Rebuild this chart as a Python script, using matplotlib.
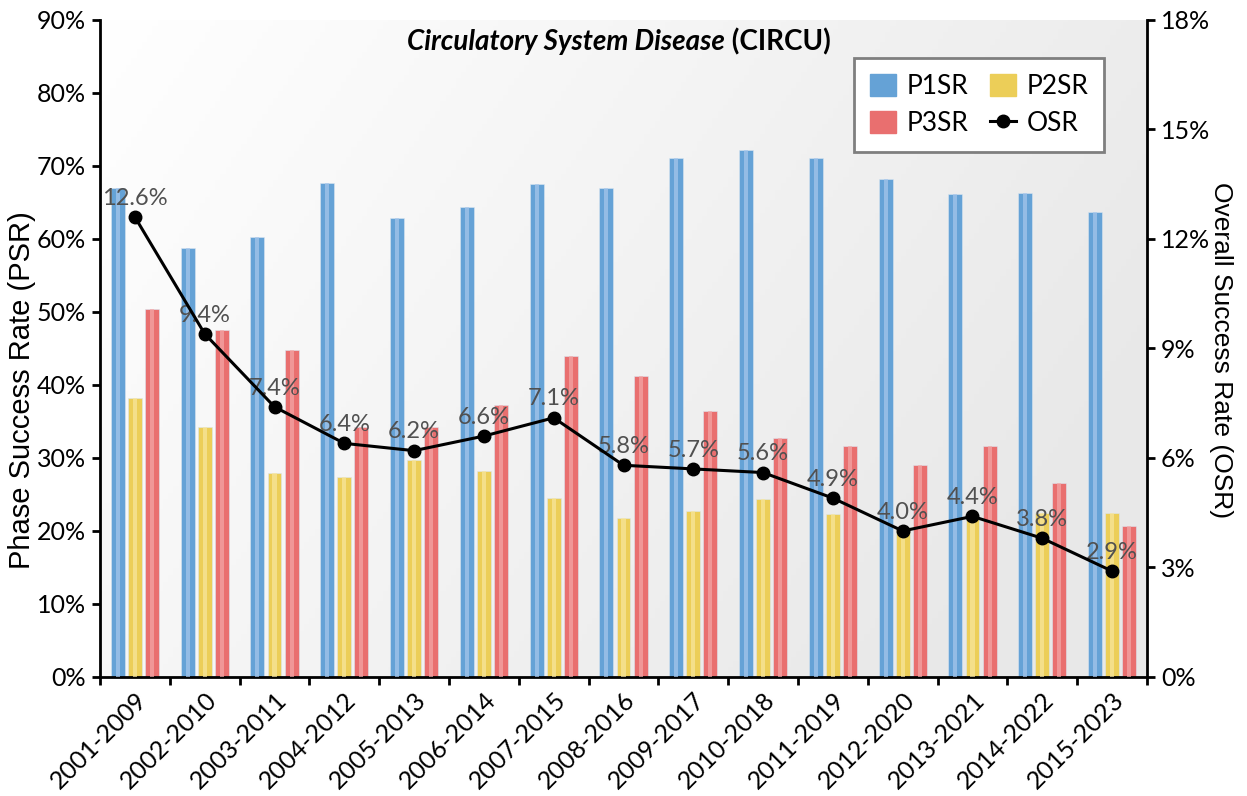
import numpy as np
import matplotlib
matplotlib.use("Agg")
import matplotlib.pyplot as plt
from matplotlib.lines import Line2D
from matplotlib.ticker import FixedLocator, PercentFormatter

# data
periods = ["2001-2009", "2002-2010", "2003-2011", "2004-2012", "2005-2013",
           "2006-2014", "2007-2015", "2008-2016", "2009-2017", "2010-2018",
           "2011-2019", "2012-2020", "2013-2021", "2014-2022", "2015-2023"]
p1sr = [67.0, 58.8, 60.3, 67.7, 62.9, 64.4, 67.5, 67.0, 71.1, 72.2,
        71.1, 68.2, 66.2, 66.3, 63.7]
p2sr = [38.2, 34.2, 27.9, 27.4, 29.7, 28.2, 24.5, 21.8, 22.8, 24.4,
        22.3, 20.5, 21.9, 22.4, 22.4]
p3sr = [50.4, 47.5, 44.8, 34.2, 34.2, 37.3, 43.9, 41.2, 36.4, 32.8,
        31.7, 29.1, 31.6, 26.6, 20.7]
osr = [12.6, 9.4, 7.4, 6.4, 6.2, 6.6, 7.1, 5.8, 5.7, 5.6,
       4.9, 4.0, 4.4, 3.8, 2.9]

main_font = ["Lato", "DejaVu Sans"]
label_font = ["Liberation Sans Narrow", "Liberation Sans", "DejaVu Sans"]
plt.rcParams['font.family'] = main_font

colors = {"P1SR": ("#65a2d6", "#a9c8ec"),
          "P2SR": ("#ecce58", "#f8e7a0"),
          "P3SR": ("#e96f6f", "#f4a9a9")}

fig = plt.figure(figsize=(12.47, 7.96), dpi=100)
ax = fig.add_axes([0.0802, 0.1495, 0.8396, 0.8255])

# gradient plot background, white top-left to light grey on the right
gx = np.linspace(0, 1, 200)
gy = np.linspace(0, 1, 200)
GX, GY = np.meshgrid(gx, gy)
shade = 1.0 - 0.09 * np.clip(0.8 * GX + 0.35 * GY, 0, 1)
ax.imshow(np.dstack([shade, shade, shade]), extent=[0, 1, 0, 1],
          transform=ax.transAxes, aspect="auto", zorder=0, origin="upper")

x = np.arange(len(periods))
w = 0.2
off = 0.245
for vals, key, dx in [(p1sr, "P1SR", -off), (p2sr, "P2SR", 0), (p3sr, "P3SR", off)]:
    base, light = colors[key]
    ax.bar(x + dx, vals, width=w, color=base, edgecolor="#dbe6f0", linewidth=0.4, zorder=2)
    ax.bar(x + dx, vals, width=w * 0.3, color=light, alpha=0.7, linewidth=0, zorder=3)

ax.set_xlim(-0.5, len(periods) - 0.5)
ax.set_ylim(0, 90)
ax.yaxis.set_major_locator(FixedLocator(np.arange(0, 91, 10)))
ax.yaxis.set_major_formatter(PercentFormatter(decimals=0))
ax.xaxis.set_major_locator(FixedLocator(np.arange(-0.5, len(periods), 1.0)))
ax.xaxis.set_major_formatter(plt.NullFormatter())
ax.xaxis.set_minor_locator(FixedLocator(x))
ax.set_xticklabels(periods, minor=True, rotation=45, ha="right",
                   rotation_mode="anchor", fontsize=18)
ax.tick_params(axis="x", which="minor", length=0, pad=8)
ax.tick_params(axis="x", which="major", length=6, width=2, direction="out")
ax.tick_params(axis="y", length=6, width=2, direction="out", labelsize=18, pad=4)
ax.set_ylabel("Phase Success Rate (PSR)", fontsize=21, family=label_font)
ax.yaxis.set_label_coords(-0.061, 0.437)
for s in ["left", "bottom"]:
    ax.spines[s].set_linewidth(2)
ax.spines["top"].set_visible(False)
ax.spines["right"].set_visible(False)

ax2 = ax.twinx()
ax2.plot(x, osr, color="black", lw=2.2, marker="o", ms=9, zorder=5)
for xi, v in zip(x, osr):
    ax2.annotate(f"{v:.1f}%", (xi, v), xytext=(0, 6), textcoords="offset points",
                 ha="center", va="bottom", fontsize=17, color="#505050", family=main_font)
ax2.set_ylim(0, 18)
ax2.yaxis.set_major_locator(FixedLocator(np.arange(0, 19, 3)))
ax2.yaxis.set_major_formatter(PercentFormatter(decimals=0))
ax2.tick_params(axis="y", length=6, width=2, direction="out", labelsize=18, pad=4)
ax2.set_ylabel("Overall Success Rate (OSR)", fontsize=19, family=label_font, rotation=270)
ax2.yaxis.set_label_coords(1.082, 0.498)
ax2.spines["right"].set_linewidth(2)
ax2.spines["top"].set_visible(False)
ax2.spines["left"].set_visible(False)
ax2.spines["bottom"].set_visible(False)

# title, italic disease name + bold code
ax2.text(0.597, 0.966, "Circulatory System Disease", transform=ax2.transAxes,
         ha="right", va="center", fontsize=20, fontweight="bold", fontstyle="italic")
ax2.text(0.597, 0.966, " (CIRCU)", transform=ax2.transAxes,
         ha="left", va="center", fontsize=20, fontweight="bold")

# matplotlib fills legend columns first, so order for rows P1SR/P2SR, P3SR/OSR
handles = [plt.Rectangle((0, 0), 1, 1, color=colors["P1SR"][0]),
           plt.Rectangle((0, 0), 1, 1, color=colors["P3SR"][0]),
           plt.Rectangle((0, 0), 1, 1, color=colors["P2SR"][0]),
           Line2D([], [], color="black", lw=2.2, marker="o", ms=9)]
leg = ax2.legend(handles, ["P1SR", "P3SR", "P2SR", "OSR"],
                 ncol=2, loc="upper right", bbox_to_anchor=(0.972, 0.962),
                 fontsize=19, frameon=True, fancybox=False, handlelength=1.0,
                 handleheight=0.9, columnspacing=0.8, handletextpad=0.4,
                 borderpad=0.6, labelspacing=0.45)
leg.get_frame().set_edgecolor("#7f7f7f")
leg.get_frame().set_linewidth(2)
leg.get_frame().set_facecolor("white")
leg.get_frame().set_alpha(1)

fig.savefig("out.png", dpi=100)
